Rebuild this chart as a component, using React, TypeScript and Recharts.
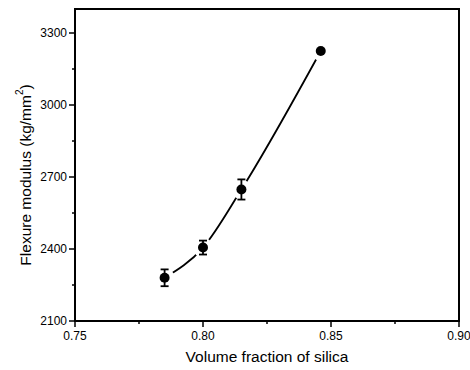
import React from 'react';
import {
  ComposedChart,
  Line,
  Scatter,
  ErrorBar,
  XAxis,
  YAxis,
  ReferenceArea,
  Label
} from 'recharts';

// Measured flexure modulus vs. silica loading
const silicaFraction = [0.785, 0.8, 0.815, 0.846];
const flexureModulus = [2280, 2406, 2648, 3225];
const modulusError = [35, 29, 42, 0];

const xMajorTicks = [0.75, 0.8, 0.85, 0.9];
const xMinorTicks = [0.775, 0.825, 0.875];
const yMajorTicks = [2100, 2400, 2700, 3000, 3300];
const yMinorTicks = [2250, 2550, 2850, 3150];

const data = silicaFraction.map((x, i) => ({
  x,
  y: flexureModulus[i],
  err: modulusError[i]
}));

const FONT = '"Liberation Sans", Arial, Helvetica, sans-serif';

const XTick = ({ x, y, payload }: any) => {
  const major = xMajorTicks.includes(payload.value);
  return (
    <g>
      <line x1={x} x2={x} y1={y} y2={y + (major ? 6 : 3)} stroke="#000" strokeWidth={1.5} />
      {major && (
        <text x={x} y={y + 19} textAnchor="middle" fontSize={12} fontFamily={FONT} fill="#000">
          {payload.value.toFixed(2)}
        </text>
      )}
    </g>
  );
};

const YTick = ({ x, y, payload }: any) => {
  const major = yMajorTicks.includes(payload.value);
  return (
    <g>
      <line x1={x - (major ? 6 : 3)} x2={x} y1={y} y2={y} stroke="#000" strokeWidth={1.5} />
      {major && (
        <text x={x - 8} y={y + 4} textAnchor="end" fontSize={12} fontFamily={FONT} fill="#000">
          {payload.value}
        </text>
      )}
    </g>
  );
};

// white halo so the fitted curve stops short of each point
const HaloDot = ({ cx, cy }: any) => <circle cx={cx} cy={cy} r={10} fill="#fff" />;

const PointDot = ({ cx, cy }: any) => <circle cx={cx} cy={cy} r={5} fill="#000" />;

const App: React.FC = () => {
  return (
    <div style={{ position: 'absolute', left: 0, top: 0, background: '#fff' }}>
      <ComposedChart
        width={470}
        height={370}
        data={data}
        margin={{ top: 9, right: 11, bottom: 0, left: 0 }}
      >
        <XAxis
          dataKey="x"
          type="number"
          domain={[0.75, 0.9]}
          ticks={[...xMajorTicks, ...xMinorTicks].sort()}
          tick={<XTick />}
          tickLine={false}
          tickSize={0}
          tickMargin={0}
          height={49}
          axisLine={{ stroke: '#000', strokeWidth: 2 }}
          allowDataOverflow
        >
          <Label
            value="Volume fraction of silica"
            position="insideBottom"
            offset={8}
            style={{ fontSize: 15.5, fontFamily: FONT, fill: '#000' }}
          />
        </XAxis>
        <YAxis
          dataKey="y"
          type="number"
          domain={[2100, 3400]}
          ticks={[...yMajorTicks, ...yMinorTicks].sort()}
          tick={<YTick />}
          tickLine={false}
          tickSize={0}
          tickMargin={0}
          width={75}
          axisLine={{ stroke: '#000', strokeWidth: 2 }}
          allowDataOverflow
          label={(props: any) => {
            const vb = props.viewBox;
            const cy = vb.y + vb.height / 2 + 10;
            return (
              <text
                x={25}
                y={cy}
                transform={`rotate(-90, 25, ${cy})`}
                textAnchor="middle"
                dominantBaseline="central"
                fontSize={15.5}
                fontFamily={FONT}
                fill="#000"
              >
                Flexure modulus (kg/mm
                <tspan fontSize={10} dy={-6}>2</tspan>
                <tspan dy={6}>)</tspan>
              </text>
            );
          }}
        />
        <ReferenceArea
          x1={0.75}
          x2={0.9}
          y1={2100}
          y2={3400}
          fill="none"
          stroke="#000"
          strokeWidth={2}
          ifOverflow="visible"
        />
        <Line
          dataKey="y"
          type="monotone"
          stroke="#000"
          strokeWidth={1.8}
          dot={false}
          activeDot={false}
          isAnimationActive={false}
          zIndex={100}
        />
        <Scatter data={data} dataKey="y" shape={<HaloDot />} isAnimationActive={false} zIndex={700} />
        <Scatter data={data} dataKey="y" shape={<PointDot />} isAnimationActive={false} zIndex={900}>
          <ErrorBar dataKey="err" direction="y" width={4} stroke="#000" strokeWidth={1.8} zIndex={800} />
        </Scatter>
      </ComposedChart>
    </div>
  );
};

export default App;
